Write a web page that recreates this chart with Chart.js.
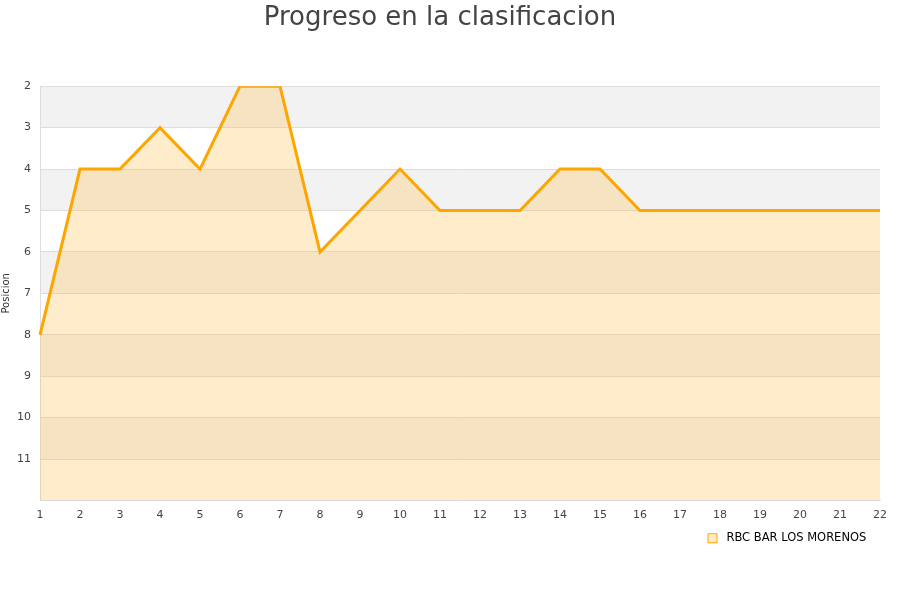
<!DOCTYPE html>
<html>
<head>
<meta charset="utf-8">
<script src="https://cdn.jsdelivr.net/npm/chart.js@4/dist/chart.umd.min.js"></script>
<style>
  html, body { margin: 0; padding: 0; background: #fff; }
  #wrap { width: 900px; height: 600px; }
</style>
</head>
<body>
<div id="wrap"><canvas id="chart" width="900" height="600"></canvas></div>
<script>
// Jornadas and position per jornada
const jornadas = ['1', '2', '3', '4', '5', '6', '7', '8', '9', '10', '11',
  '12', '13', '14', '15', '16', '17', '18', '19', '20', '21', '22'];
const posiciones = [8, 4, 4, 3, 4, 2, 2, 6, 5, 4, 5, 5, 5, 4, 4, 5, 5, 5, 5, 5, 5, 5];
const equipo = 'RBC BAR LOS MORENOS';

// alternating horizontal bands behind the plot
const bandsPlugin = {
  id: 'bands',
  beforeDraw(chart) {
    const { ctx, chartArea, scales } = chart;
    const y = scales.y;
    ctx.save();
    for (let v = y.min; v < y.max; v++) {
      if ((v - y.min) % 2 !== 0) continue;
      const top = y.getPixelForValue(v);
      const bottom = y.getPixelForValue(v + 1);
      ctx.fillStyle = '#f2f2f2';
      ctx.fillRect(chartArea.left, top, chartArea.right - chartArea.left, bottom - top);
    }
    ctx.restore();
  },
};

new Chart(document.getElementById('chart').getContext('2d'), {
  type: 'line',
  data: {
    labels: jornadas,
    datasets: [{
      label: equipo,
      data: posiciones,
      borderColor: '#ffa500',
      backgroundColor: 'rgba(252, 192, 78, 0.3)',
      borderWidth: 3,
      fill: { value: 12 },
      pointRadius: 0,
      tension: 0,
    }],
  },
  options: {
    responsive: false,
    animation: false,
    layout: { padding: { left: 0, right: 20, top: 0, bottom: 46 } },
    plugins: {
      title: {
        display: true,
        text: 'Progreso en la clasificacion',
        color: '#444',
        font: { family: 'DejaVu Sans', size: 26, weight: 'normal' },
        padding: { top: 3, bottom: 52 },
      },
      legend: {
        position: 'bottom',
        align: 'end',
        labels: {
          color: '#111',
          font: { family: 'DejaVu Sans', size: 11.5 },
          boxWidth: 9,
          boxHeight: 9,
          padding: 10,
          generateLabels(chart) {
            return [{
              text: ' ' + equipo + ' ',
              fillStyle: 'rgba(252, 192, 78, 0.3)',
              strokeStyle: '#ffa500',
              lineWidth: 1,
              datasetIndex: 0,
            }];
          },
        },
      },
      tooltip: { enabled: false },
    },
    scales: {
      x: {
        type: 'category',
        offset: false,
        grid: { display: false, drawTicks: false },
        border: { color: '#ddd' },
        ticks: {
          color: '#444',
          font: { family: 'DejaVu Sans', size: 11 },
          padding: 8,
          maxRotation: 0,
          autoSkip: false,
        },
        afterFit(scale) { scale.height = 22; },
      },
      y: {
        reverse: true,
        min: 2,
        max: 12,
        grid: { color: '#ddd', drawTicks: false },
        border: { color: '#ddd' },
        ticks: {
          stepSize: 1,
          color: '#444',
          font: { family: 'DejaVu Sans', size: 11 },
          padding: 9,
          callback: (v) => (v === 12 ? '' : v),
        },
        title: {
          display: true,
          text: 'Posicion',
          color: '#333',
          font: { family: 'DejaVu Sans', size: 10 },
          padding: 0,
        },
        afterFit(scale) { scale.width = 40; },
      },
    },
  },
  plugins: [bandsPlugin],
});
</script>
</body>
</html>
